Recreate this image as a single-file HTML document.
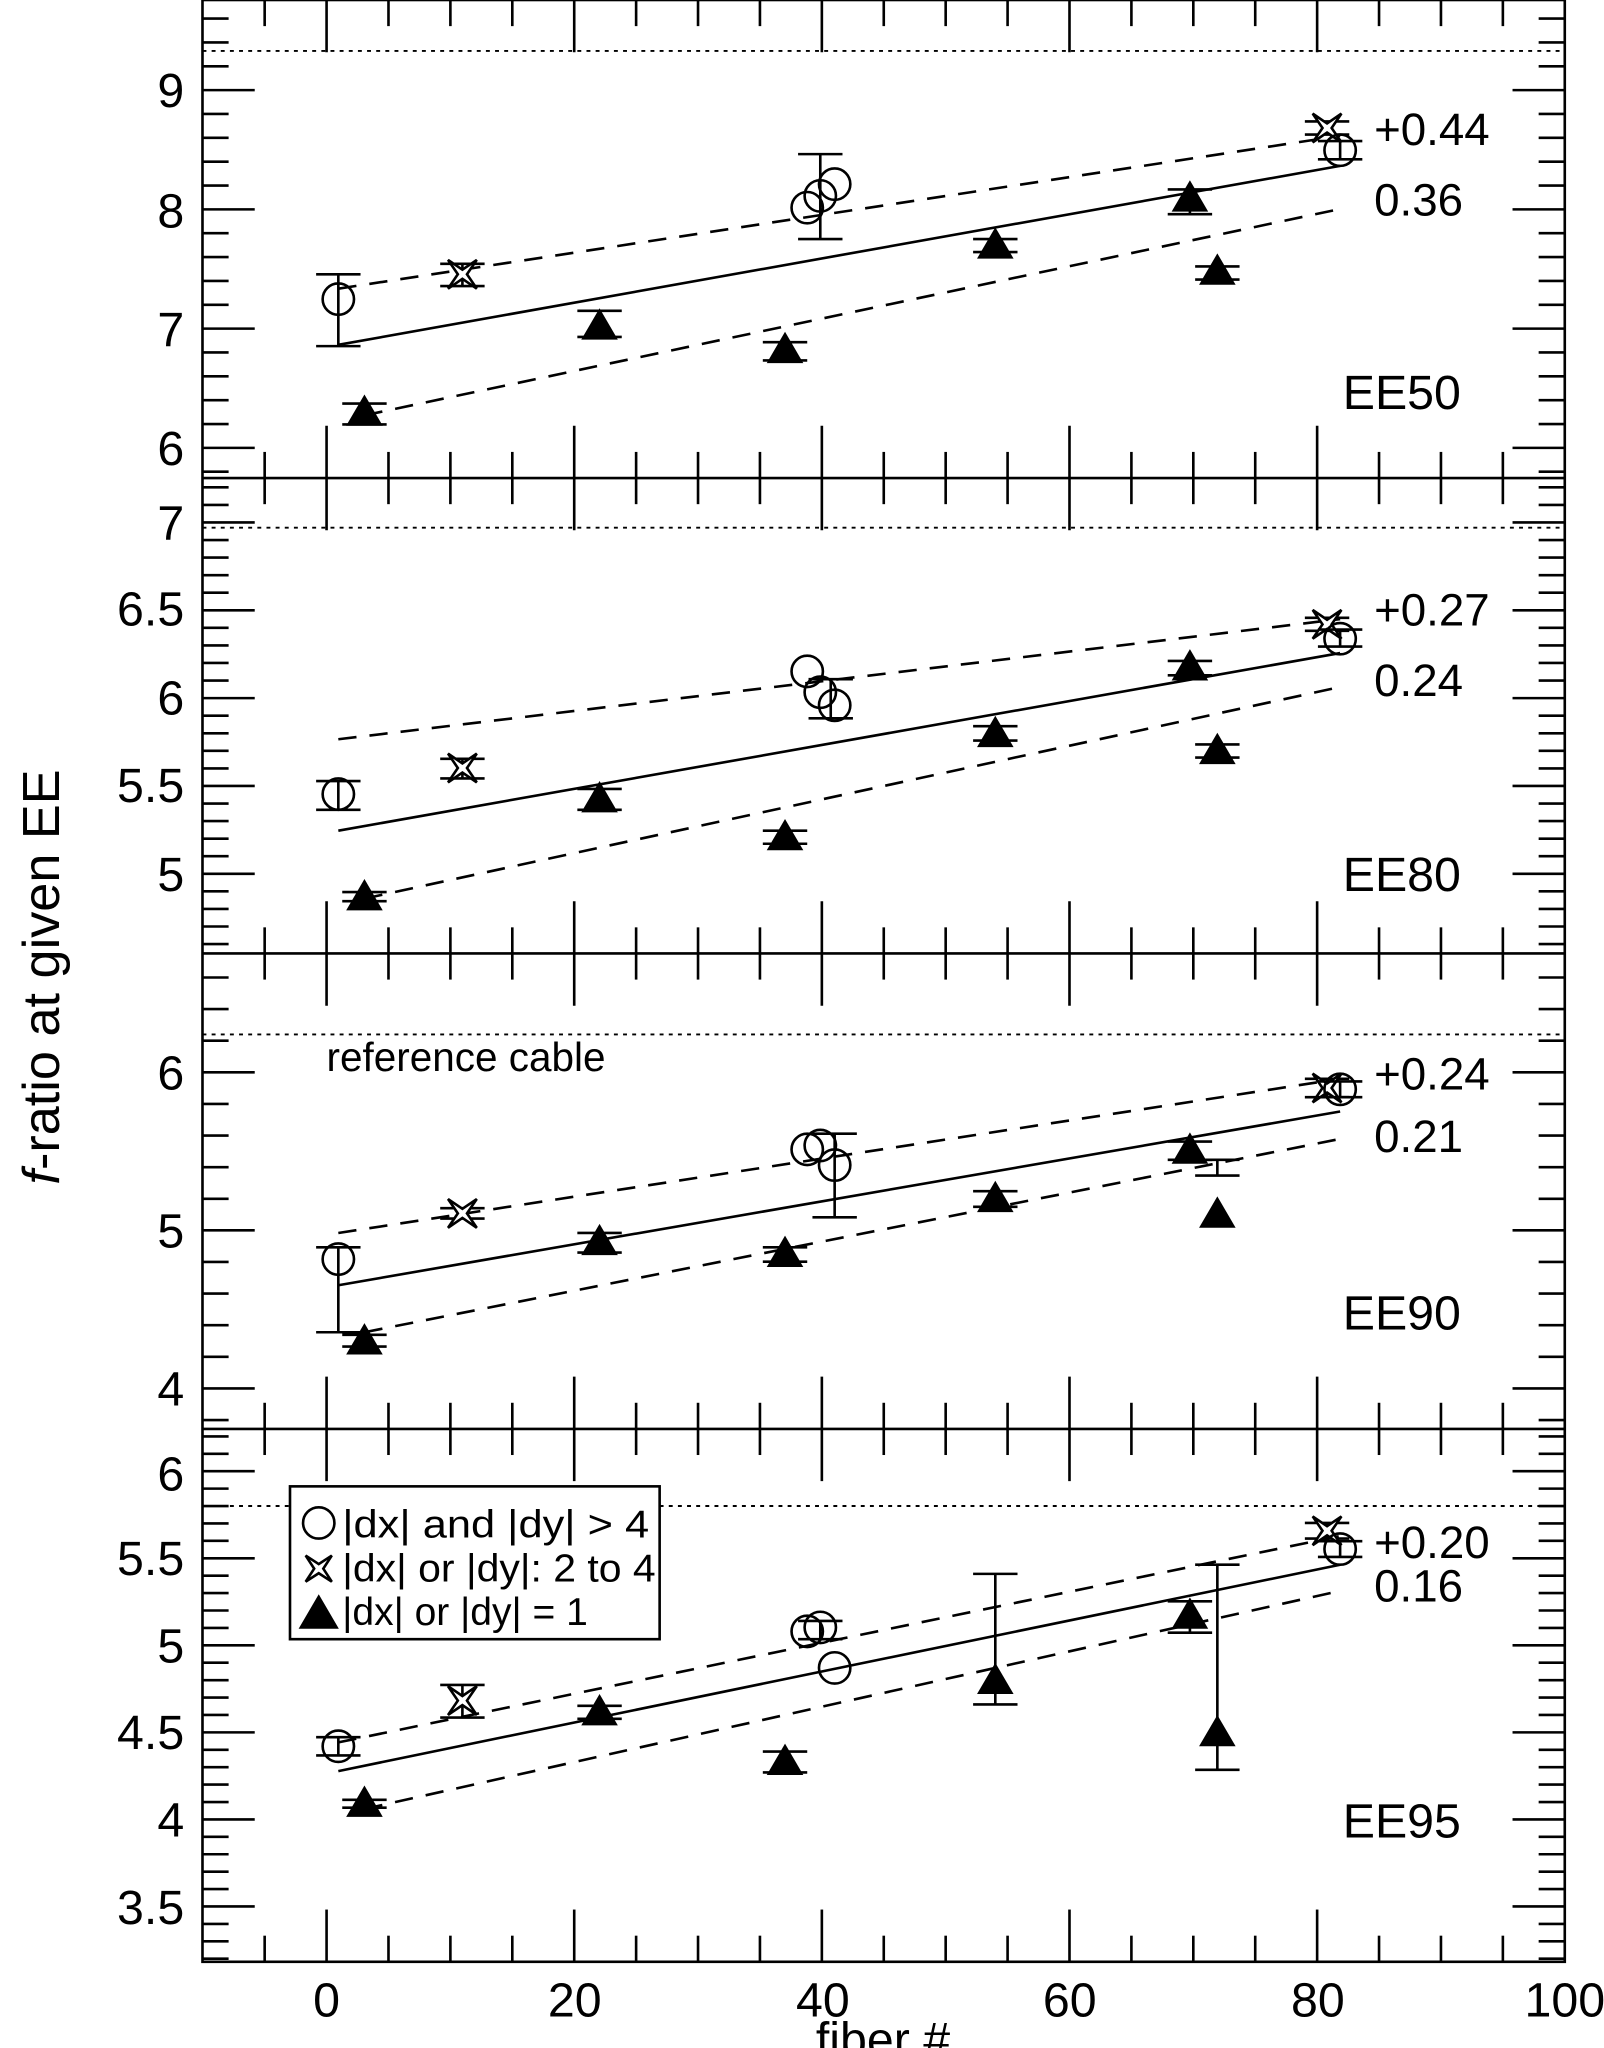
<!DOCTYPE html>
<html><head><meta charset="utf-8"><style>html,body{margin:0;padding:0;background:#fff}svg{display:block}</style></head>
<body>
<svg id="s" xmlns="http://www.w3.org/2000/svg" width="1604" height="2048" viewBox="0 0 1228 1568" font-family="Liberation Sans, sans-serif">
<rect width="1228" height="1568" fill="#fff"/>
<g id="g" stroke="#000" stroke-width="2" fill="none"></g>
<g font-size="37" fill="#000" text-anchor="end">
<text x="141" y="82">9</text><text x="141" y="174">8</text><text x="141" y="265">7</text><text x="141" y="356">6</text>
<text x="141" y="413">7</text><text x="141" y="479">6.5</text><text x="141" y="547">6</text><text x="141" y="614">5.5</text><text x="141" y="682">5</text>
<text x="141" y="834">6</text><text x="141" y="955">5</text><text x="141" y="1076">4</text>
<text x="141" y="1141">6</text><text x="141" y="1206">5.5</text><text x="141" y="1273">5</text><text x="141" y="1339">4.5</text><text x="141" y="1406">4</text><text x="141" y="1473">3.5</text>
</g>
<g font-size="37" fill="#000" text-anchor="middle">
<text x="250" y="1544">0</text><text x="440" y="1544">20</text><text x="630" y="1544">40</text><text x="819" y="1544">60</text><text x="1009" y="1544">80</text><text x="1198" y="1544">100</text>
<text x="676" y="1574">fiber #</text>
<text transform="translate(45,748) rotate(-90)" font-size="40"><tspan font-style="italic">f</tspan>-ratio at given EE</text>
</g>
<g font-size="35" fill="#000">
<text x="1052" y="111">+0.44</text><text x="1052" y="165">0.36</text>
<text x="1052" y="479">+0.27</text><text x="1052" y="533">0.24</text>
<text x="1052" y="834">+0.24</text><text x="1052" y="882">0.21</text>
<text x="1052" y="1193">+0.20</text><text x="1052" y="1226">0.16</text>
</g>
<g font-size="37" fill="#000">
<text x="1028" y="313">EE50</text><text x="1028" y="682">EE80</text><text x="1028" y="1018">EE90</text><text x="1028" y="1407">EE95</text>
</g>
<text x="250" y="820" font-size="31">reference cable</text>
<rect x="222" y="1138" width="283" height="117" fill="#fff" stroke="#000" stroke-width="2"/>
<g font-size="30" fill="#000">
<text x="262" y="1177" textLength="235" lengthAdjust="spacingAndGlyphs">|dx| and |dy| &gt; 4</text>
<text x="262" y="1211" textLength="240" lengthAdjust="spacingAndGlyphs">|dx| or |dy|: 2 to 4</text>
<text x="262" y="1244" textLength="188" lengthAdjust="spacingAndGlyphs">|dx| or |dy| = 1</text>
</g>
<g id="lg" stroke="#000" stroke-width="2" fill="none"></g>
</svg>
<script>
var g=document.getElementById('g'),h='';
function L(a,b,c,d,ex){h+='<line x1="'+a+'" y1="'+b+'" x2="'+c+'" y2="'+d+'" '+(ex||'')+'/>';}
var XL=155,XR=1198;
function X(v){return 250+v*9.48;}
h+='<rect x="155" y="0" width="1043" height="1502"/>';
[366,730,1094].forEach(function(y){L(XL,y,XR,y);});
for(var v=-5;v<100;v+=5){var x=X(v),len=(v%20==0)?40:20;
 L(x,0,x,len);L(x,1502,x,1502-len);
 [366,730,1094].forEach(function(y){L(x,y-len,x,y+len);});}
var P=[[9,69,91.3,0.2,0,366,[6,7,8,9]],[5,669,134.5,0.1,366,730,[5,5.5,6,6.5,7]],[5,942,121,0.2,730,1094,[4,5,6]],[4,1393,133.3,0.1,1094,1502,[3.5,4,4.5,5,5.5,6]]];
P.forEach(function(p){for(var k=-60;k<60;k++){var v=p[0]+k*p[3];var y=p[1]-(v-p[0])*p[2];if(y<=p[4]+2||y>=p[5]-2)continue;
 var maj=p[6].some(function(m){return Math.abs(m-v)<1e-6});var len=maj?40:20;L(XL,y,XL+len,y);L(XR,y,XR-len,y);}});
[39,404,792,1153].forEach(function(y){L(XL,y,XR,y,'stroke-dasharray="3 4" stroke-width="1.5"');});
var F=[[[259,264,1026,127],[259,221,1026,104],[279,318,1026,160]],[[259,636,1026,500],[259,566,1026,474],[279,688,1026,526]],[[259,984,1026,851],[259,944,1026,826],[279,1020,1026,872]],[[259,1356,1026,1198],[259,1334,1026,1176],[279,1385,1026,1218]]];
F.forEach(function(f){L(f[0][0],f[0][1],f[0][2],f[0][3]);L(f[1][0],f[1][1],f[1][2],f[1][3],'stroke-dasharray="14 10"');L(f[2][0],f[2][1],f[2][2],f[2][3],'stroke-dasharray="14 10"');});
function eb(x,a,b){L(x,a,x,b);L(x-17,a,x+17,a);L(x-17,b,x+17,b);}
function C(x,y,r){h+='<circle cx="'+x+'" cy="'+y+'" r="'+(r||12)+'" fill="none"/>';}
function T(x,y,k){k=k||1;h+='<polygon points="'+x+','+(y-14*k)+' '+(x+14*k)+','+(y+10*k)+' '+(x-14*k)+','+(y+10*k)+'" fill="#000" stroke="none"/>';}
function S(x,y,s){s=s||11;var i=3.5;h+='<polygon points="'+(x-s)+','+(y-s)+' '+x+','+(y-i)+' '+(x+s)+','+(y-s)+' '+(x+i)+','+y+' '+(x+s)+','+(y+s)+' '+x+','+(y+i)+' '+(x-s)+','+(y+s)+' '+(x-i)+','+y+'" fill="#fff" stroke-linejoin="miter"/>';}
eb(259,210,265);C(259,229);eb(354,202,219);S(354,210);eb(279,309,325);T(279,316);eb(459,238,258);T(459,250);eb(601,262,276);T(601,268);
eb(628,118,183);C(618,159);C(628,150);C(639,141);eb(762,183,193);T(762,188);eb(911,145,164);T(911,152);eb(932,204,214);T(932,208);
eb(1016,93,103);S(1016,98);eb(1026,108,122);C(1026,115);
eb(259,598,620);C(259,608);eb(354,581,596);S(354,588);eb(279,683,690);T(279,687);eb(459,604,620);T(459,612);eb(601,636,646);T(601,641);
eb(636,520,550);C(618,514);C(628,530);C(639,540);eb(762,556,567);T(762,562);eb(911,506,517);T(911,511);eb(932,570,580);T(932,575);
eb(1016,473,483);S(1016,478);eb(1026,482,495);C(1026,489);
eb(259,955,1020);C(259,964);eb(354,925,933);S(354,929);eb(279,1022,1031);T(279,1027);eb(459,944,959);T(459,951);eb(601,955,966);T(601,960);
eb(639,868,932);C(618,880);C(628,877);C(639,892);eb(762,912,924);T(762,918);eb(911,874,888);T(911,881);eb(932,888,900);T(932,930);
eb(1016,826,840);S(1016,833);eb(1026,828,840);C(1026,834);
eb(259,1330,1344);C(259,1337);eb(354,1290,1315);S(354,1302);eb(279,1378,1384);T(279,1381);eb(459,1306,1316);T(459,1311);eb(601,1341,1357);T(601,1349);
eb(628,1241,1255);C(618,1249);C(628,1246);C(639,1277);eb(762,1205,1305);T(762,1287);eb(911,1226,1250);T(911,1237);eb(932,1198,1355);T(932,1327);
eb(1016,1166,1178);S(1016,1172);eb(1026,1180,1192);C(1026,1186);
g.innerHTML=h;
h='';C(244,1166,12);S(244,1201,10);T(244,1236,1.1);
document.getElementById('lg').innerHTML=h;
</script>
</body></html>
